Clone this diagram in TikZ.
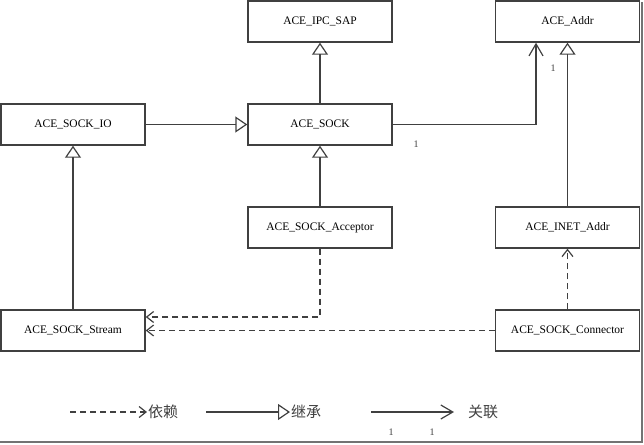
\documentclass[tikz,border=0pt]{standalone}
\usepackage{fontspec}
\setmainfont{Liberation Serif}
\newfontfamily\cjkfont{Noto Sans CJK SC}
\usetikzlibrary{arrows.meta,positioning}

\begin{document}
\begin{tikzpicture}[
  x=1pt, y=-1pt,
  font=\fontsize{11.5}{13}\selectfont,
  classbox/.style={draw=black!75, line width=1.4pt, fill=white, minimum width=144pt, minimum height=41pt, inner sep=2pt},
  inherit/.style={draw=black!75, line width=1.3pt, -{Triangle[open, length=12pt, width=16pt, line width=1.2pt]}},
  assoc/.style={draw=black!75, line width=1.3pt, -{Straight Barb[length=12pt, width=14pt, line width=1.2pt]}},
  depend/.style={draw=black!75, line width=1.3pt, dash pattern=on 6pt off 4pt, -{Straight Barb[length=7pt, width=11pt, line width=1.2pt]}},
  mult/.style={font=\fontsize{10}{11}\selectfont, text=black!75, inner sep=0pt},
  legtext/.style={font=\cjkfont\fontsize{15}{17}\selectfont, text=black!75, anchor=west, inner sep=1pt}
]
\useasboundingbox (0,0) rectangle (644,444);
% frame shadow
\draw[black!55, line width=2.5pt] (0,442) -- (642,442) -- (642,2);

\foreach \n/\txt/\x/\y in {
  ipcsap/{ACE\_IPC\_SAP}/320/21.5,
  addr/{ACE\_Addr}/567.5/21.5,
  sockio/{ACE\_SOCK\_IO}/73/124.5,
  sock/{ACE\_SOCK}/320/124.5,
  acceptor/{ACE\_SOCK\_Acceptor}/320/227.5,
  inetaddr/{ACE\_INET\_Addr}/567.5/227.5,
  stream/{ACE\_SOCK\_Stream}/73/330.5,
  connector/{ACE\_SOCK\_Connector}/567.5/330.5
}{
  \node[classbox] (\n) at (\x,\y) {\txt};
}

% inheritance
\draw[inherit] (sock) -- (ipcsap);
\draw[inherit] (sockio) -- (sock);
\draw[inherit] (acceptor) -- (sock);
\draw[inherit] (stream) -- (sockio);
\draw[inherit] (inetaddr) -- (addr);

% association
\draw[assoc] (sock.east) -| ([xshift=-31.5pt]addr.south);
\node[mult] (m1) at (416,144) {1};
\node[mult] (m2) at (553,68) {1};

% dependency
\draw[depend] (acceptor.south) |- ([yshift=13.5pt]stream.east);
\draw[depend] (connector.west) -- (stream.east);
\draw[depend] (connector.north) -- (inetaddr.south);

% legend
\coordinate (l1) at (70,412);
\node[legtext] (t1) at (147,412) {依赖};
\coordinate (l2) at (206,412);
\node[legtext] (t2) at (290,412) {继承};
\coordinate (l3) at (371,412);
\node[legtext] (t3) at (467,412) {关联};
\draw[depend] (l1) -- (t1.west);
\draw[inherit] (l2) -- (t2.west);
\draw[assoc] (l3) -- ([xshift=-13pt]t3.west);
\node[mult] (m3) at (391,432) {1};
\node[mult] (m4) at (432,432) {1};
\end{tikzpicture}
\end{document}
